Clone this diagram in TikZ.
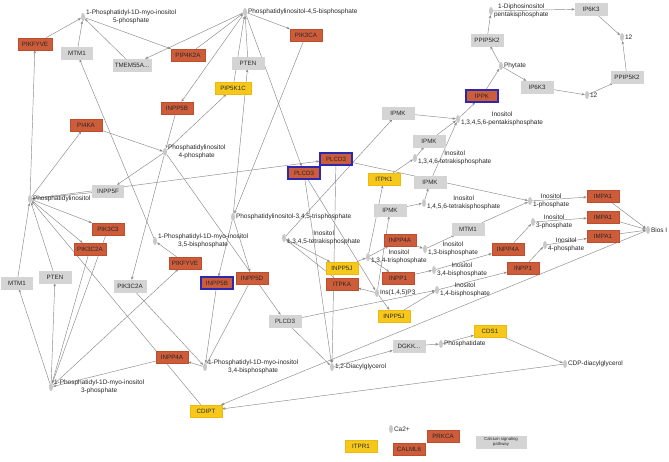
\documentclass[tikz,border=0pt]{standalone}
\usepackage{fontspec}
\setmainfont{Liberation Sans}
\usetikzlibrary{shapes.geometric,arrows.meta,backgrounds}
\definecolor{orF}{RGB}{204,92,58}
\definecolor{orD}{RGB}{188,78,46}
\definecolor{grF}{RGB}{212,212,212}
\definecolor{yeF}{RGB}{247,200,28}
\definecolor{yeD}{RGB}{238,185,10}
\definecolor{blB}{RGB}{44,40,175}
\definecolor{edC}{RGB}{138,138,138}
\definecolor{dotC}{RGB}{200,200,200}
\definecolor{txC}{RGB}{40,40,40}
\begin{document}
\begin{tikzpicture}[x=1pt,y=-1pt,
  box/.style={minimum width=32pt,minimum height=12pt,inner sep=0pt,text=txC,
    font=\fontsize{6.2}{6.6}\selectfont,line width=0.4pt},
  org/.style={box,fill=orF,draw=orD},
  gry/.style={box,fill=grF,draw=grF},
  yel/.style={box,fill=yeF,draw=yeD},
  hl/.style={draw=blB,line width=1.3pt},
  met/.style={ellipse,fill=dotC,minimum width=4pt,minimum height=8pt,inner sep=0pt},
  lab/.style={font=\fontsize{6.5}{7.4}\selectfont,align=center,inner sep=0.6pt,anchor=west,text=txC},
  edge/.style={draw=edC,line width=0.45pt,-{Stealth[length=3.2pt,width=2.5pt]}}]
\useasboundingbox (0,0) rectangle (669,462);
% ---------- genes ----------
\node[org,minimum width=34pt] (PIKFYVEa) at (35,44) {PIKFYVE};
\node[gry,minimum width=31pt] (MTM1a) at (77,53) {MTM1};
\node[gry,minimum width=38pt] (TMEM) at (132,65) {TMEM55A...};
\node[org,minimum width=34pt] (PIP4K2A) at (188,55) {PIP4K2A};
\node[org] (PIK3CA) at (306,35) {PIK3CA};
\node[gry] (PTENa) at (248,63) {PTEN};
\node[yel,minimum width=36pt] (PIP5K1C) at (233,88) {PIP5K1C};
\node[org] (INPP5Ba) at (177,108) {INPP5B};
\node[org] (PI4KA) at (86,125) {PI4KA};
\node[gry,minimum width=31pt] (INPP5F) at (108,191) {INPP5F};
\node[org] (PIK3C3) at (108,229) {PIK3C3};
\node[org] (PIK3C2Aa) at (90,249) {PIK3C2A};
\node[org] (PIKFYVEb) at (185,263) {PIKFYVE};
\node[gry,minimum width=31pt] (MTM1b) at (17,283) {MTM1};
\node[gry] (PTENb) at (55,277) {PTEN};
\node[gry] (PIK3C2Ab) at (130,286) {PIK3C2A};
\node[org,hl] (INPP5Bb) at (217,283) {INPP5B};
\node[org] (INPP5D) at (252,278) {INPP5D};
\node[gry] (PLCD3c) at (285,321) {PLCD3};
\node[org,hl] (PLCD3a) at (336,159) {PLCD3};
\node[org,hl] (PLCD3b) at (304,173) {PLCD3};
\node[yel] (ITPK1) at (384,179) {ITPK1};
\node[gry] (IPMKc) at (430,182) {IPMK};
\node[gry] (IPMKd) at (390,210) {IPMK};
\node[gry] (IPMKa) at (398,113) {IPMK};
\node[gry] (IPMKb) at (429,141) {IPMK};
\node[org,hl] (IPPK) at (482,96) {IPPK};
\node[gry] (PPIP5K2a) at (487,40) {PPIP5K2};
\node[gry] (IP6K3a) at (591,9) {IP6K3};
\node[gry] (IP6K3b) at (537,87) {IP6K3};
\node[gry] (PPIP5K2b) at (627,77) {PPIP5K2};
\node[org] (INPP4Ab) at (400,240) {INPP4A};
\node[yel] (INPP5Ja) at (342,268) {INPP5J};
\node[org] (ITPKA) at (342,284) {ITPKA};
\node[org] (INPP1a) at (398,278) {INPP1};
\node[yel] (INPP5Jb) at (394,316) {INPP5J};
\node[gry] (MTM1c) at (468,229) {MTM1};
\node[org] (INPP4Ac) at (508,249) {INPP4A};
\node[org] (INPP1b) at (523,268) {INPP1};
\node[org] (IMPA1a) at (603,196) {IMPA1};
\node[org] (IMPA1b) at (603,217) {IMPA1};
\node[org] (IMPA1c) at (603,236) {IMPA1};
\node[yel] (CDS1) at (490,331) {CDS1};
\node[gry] (DGKK) at (409,346) {DGKK...};
\node[org] (INPP4Aa) at (172,357) {INPP4A};
\node[yel] (CDIPT) at (206,411) {CDIPT};
\node[yel] (ITPR1) at (361,446) {ITPR1};
\node[org] (CALML6) at (409,449) {CALML6};
\node[org] (PRKCA) at (443,436) {PRKCA};
\node[gry,minimum width=50pt,font=\fontsize{4.3}{4.9}\selectfont,align=center] (CaSig) at (501,442) {Calcium signaling\\pathway};
% ---------- metabolites ----------
\node[met] (PI5P) at (83,17) {};
\node[met] (PI45P2) at (245,12) {};
\node[met] (PI4P) at (165,152) {};
\node[met] (PI) at (30,199) {};
\node[met] (PI35P2) at (155,241) {};
\node[met] (PI3P) at (51,387) {};
\node[met] (PI34P2) at (205,367) {};
\node[met] (PIP3) at (233,217) {};
\node[met] (IP4) at (284,238) {};
\node[met] (I134P3) at (368,257) {};
\node[met] (IP3) at (377,293) {};
\node[met] (I13P2) at (425,249) {};
\node[met] (I34P2) at (434,270) {};
\node[met] (I14P2) at (437,290) {};
\node[met] (I1P) at (530,201) {};
\node[met] (I3P) at (533,222) {};
\node[met] (I4P) at (545,245) {};
\node[met] (BiosI) at (648,230) {};
\node[met] (I1346P4) at (415,158) {};
\node[met] (I1456P4) at (424,203) {};
\node[met] (IP5) at (458,119) {};
\node[met] (Phytate) at (501,66) {};
\node[met] (PPIP5) at (491,11) {};
\node[met] (T12a) at (622,37) {};
\node[met] (T12b) at (587,95) {};
\node[met] (DAG) at (332,367) {};
\node[met] (PA) at (441,344) {};
\node[met] (CDPDAG) at (565,364) {};
\node[met] (Ca) at (391,429) {};
% ---------- labels ----------
\node[lab] (lPI5P) at (PI5P.east) {1-Phosphatidyl-1D-myo-inositol\\5-phosphate};
\node[lab] (lPI45P2) at (PI45P2.east) {Phosphatidylinositol-4,5-bisphosphate};
\node[lab] (lPI4P) at (PI4P.east) {Phosphatidylinositol\\4-phosphate};
\node[lab] (lPI) at (PI.east) {Phosphatidylinositol};
\node[lab] (lPI35P2) at (PI35P2.east) {1-Phosphatidyl-1D-myo-inositol\\3,5-bisphosphate};
\node[lab] (lPI3P) at (PI3P.east) {1-Phosphatidyl-1D-myo-inositol\\3-phosphate};
\node[lab] (lPI34P2) at (PI34P2.east) {1-Phosphatidyl-1D-myo-inositol\\3,4-bisphosphate};
\node[lab] (lPIP3) at (PIP3.east) {Phosphatidylinositol-3,4,5-trisphosphate};
\node[lab] (lIP4) at (IP4.east) {Inositol\\1,3,4,5-tetrakisphosphate};
\node[lab] (lI134P3) at (I134P3.east) {Inositol\\1,3,4-trisphosphate};
\node[lab] (lIP3) at (IP3.east) {Ins(1,4,5)P3};
\node[lab] (lI13P2) at (I13P2.east) {Inositol\\1,3-bisphosphate};
\node[lab] (lI34P2) at (I34P2.east) {Inositol\\3,4-bisphosphate};
\node[lab] (lI14P2) at (I14P2.east) {Inositol\\1,4-bisphosphate};
\node[lab] (lI1P) at (I1P.east) {Inositol\\1-phosphate};
\node[lab] (lI3P) at (I3P.east) {Inositol\\3-phosphate};
\node[lab] (lI4P) at (I4P.east) {Inositol\\4-phosphate};
\node[lab] (lBiosI) at (BiosI.east) {Bios I};
\node[lab] (lI1346P4) at (I1346P4.east) {Inositol\\1,3,4,6-tetrakisphosphate};
\node[lab] (lI1456P4) at (I1456P4.east) {Inositol\\1,4,5,6-tetrakisphosphate};
\node[lab] (lIP5) at (IP5.east) {Inositol\\1,3,4,5,6-pentakisphosphate};
\node[lab] (lPhytate) at (Phytate.east) {Phytate};
\node[lab] (lPPIP5) at (PPIP5.east) {1-Diphosinositol\\pentakisphosphate};
\node[lab] (lT12a) at (T12a.east) {12};
\node[lab] (lT12b) at (T12b.east) {12};
\node[lab] (lDAG) at (DAG.east) {1,2-Diacylglycerol};
\node[lab] (lPA) at (PA.east) {Phosphatidate};
\node[lab] (lCDPDAG) at (CDPDAG.east) {CDP-diacylglycerol};
\node[lab] (lCa) at (Ca.east) {Ca2+};
% ---------- connectors ----------
\begin{pgfonlayer}{background}
\fill[white] (0,0) rectangle (669,462);
\foreach \a/\b in {PI/PIKFYVEa,PIKFYVEa/PI5P,PI35P2/MTM1a,MTM1a/PI5P,PI45P2/TMEM,TMEM/PI5P,
  PI5P/PIP4K2A,PIP4K2A/PI45P2,PI45P2/INPP5Ba,INPP5Ba/PI4P,PI4P/PIP5K1C,PIP5K1C/PI45P2,
  PI/PI4KA,PI4KA/PI4P,PI45P2/PIK3CA,PIK3CA/PIP3,PIP3/PTENa,PTENa/PI45P2,
  PI45P2/PLCD3b,PLCD3b/IP3,PLCD3b/DAG,PI/PLCD3a,PLCD3a/I1P,PLCD3a/DAG,
  PI4P/INPP5F,INPP5F/PI,PI/PIK3C3,PIK3C3/PI3P,PI/PIK3C2Aa,PIK3C2Aa/PI3P,
  PI3P/PTENb,PTENb/PI,PI3P/MTM1b,MTM1b/PI,PI4P/PIK3C2Ab,PIK3C2Ab/PI34P2,
  PI3P/PIKFYVEb,PIKFYVEb/PI35P2,PIP3/INPP5Bb,INPP5Bb/PI34P2,PIP3/INPP5D,INPP5D/PI34P2,
  PI4P/PLCD3c,PLCD3c/I14P2,PLCD3c/DAG,PI34P2/INPP4Aa,INPP4Aa/PI3P,
  CDPDAG/CDIPT,BiosI/CDIPT,CDIPT/PI,DAG/DGKK,DGKK/PA,PA/CDS1,CDS1/CDPDAG,
  IP3/ITPKA,ITPKA/IP4,IP4/IPMKa,IPMKa/IP5,IP4/INPP5Ja,INPP5Ja/I134P3,
  IP3/INPP5Jb,INPP5Jb/I14P2,IP3/IPMKd,IPMKd/I1456P4,I1456P4/IPMKc,IPMKc/IP5,
  I134P3/ITPK1,ITPK1/I1346P4,I1346P4/IPMKb,IPMKb/IP5,I134P3/INPP4Ab,INPP4Ab/I13P2,
  I134P3/INPP1a,INPP1a/I34P2,I13P2/MTM1c,MTM1c/I1P,I34P2/INPP4Ac,INPP4Ac/I3P,
  I14P2/INPP1b,INPP1b/I4P,I1P/IMPA1a,IMPA1a/BiosI,I3P/IMPA1b,IMPA1b/BiosI,
  I4P/IMPA1c,IMPA1c/BiosI,IP5/IPPK,IPPK/Phytate,Phytate/PPIP5K2a,PPIP5K2a/PPIP5,
  PPIP5/IP6K3a,IP6K3a/T12a,Phytate/IP6K3b,IP6K3b/T12b,T12b/PPIP5K2b,PPIP5K2b/T12a}
  \draw[edge] (\a) -- (\b);
\end{pgfonlayer}
\end{tikzpicture}
\end{document}
